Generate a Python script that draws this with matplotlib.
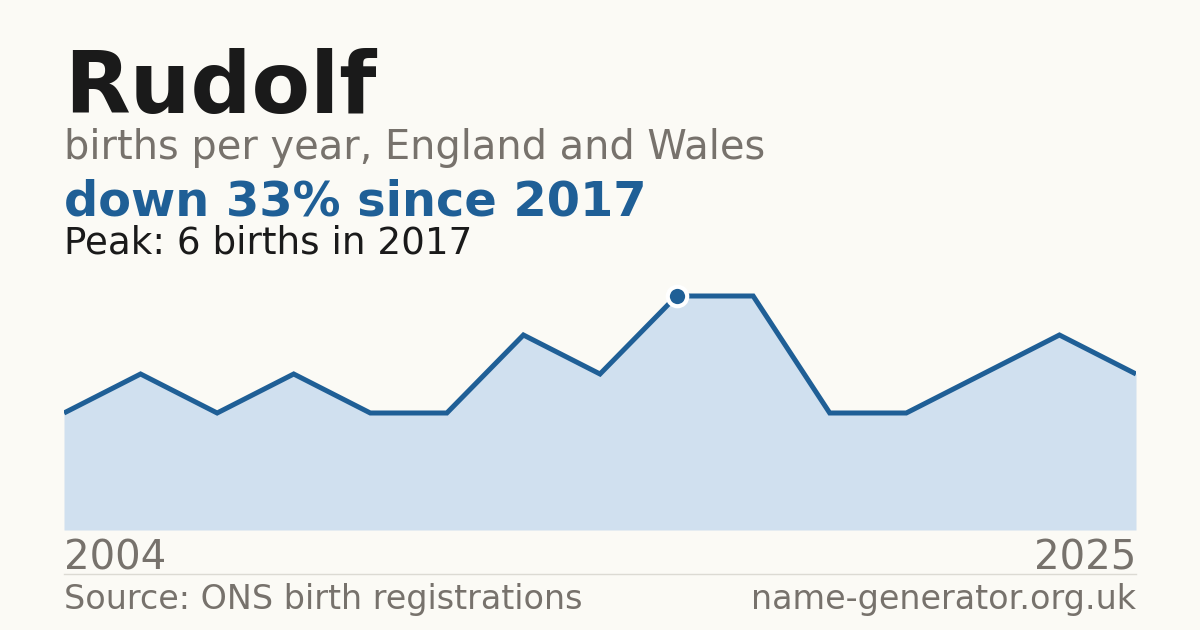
import numpy as np
import matplotlib.pyplot as plt
from matplotlib.lines import Line2D

years = [2004, 2006, 2008, 2010, 2011, 2012, 2014, 2016, 2017, 2018, 2019, 2020, 2021, 2023, 2025]
births = [3, 4, 3, 4, 3, 3, 5, 4, 6, 6, 3, 3, 4, 5, 4]
name = "Rudolf"
subtitle = "births per year, England and Wales"
headline = "down 33% since 2017"
peak_note = "Peak: 6 births in 2017"
source = "Source: ONS birth registrations"
site = "name-generator.org.uk"

bg = "#fbfaf5"
blue = "#1f5f96"
fill = "#d0e0ef"
grey = "#77726c"

W, H = 1200, 630
fig = plt.figure(figsize=(12, 6.3), dpi=100, facecolor=bg)

def fy(y):
    return 1 - y / H

# plot area: left 64, right 1136, bottom 530 (value 0), 6 -> 296
top_val = 6.9
ax_top = 530 - 39 * top_val
ax = fig.add_axes([64 / W, fy(530), (1136 - 64) / W, (530 - ax_top) / H])
ax.set_facecolor(bg)
x = np.arange(len(years))
ax.fill_between(x, births, 0, color=fill, lw=0)
ax.plot(x, births, color=blue, lw=3.6, solid_joinstyle="miter", solid_capstyle="butt")
pk = int(np.argmax(births))
ax.plot(x[pk], births[pk], "o", ms=14, color=blue, mec="white", mew=3, zorder=5)
ax.set_xlim(0, len(years) - 1)
ax.set_ylim(0, top_val)
ax.axis("off")

fig.text(64 / W, fy(113), name, fontsize=61.5, fontweight="bold", color="#1a1a1a", va="baseline")
fig.text(64 / W, fy(159), subtitle, fontsize=28.7, color=grey, va="baseline")
fig.text(64 / W, fy(215), headline, fontsize=34.5, fontweight="bold", color=blue, va="baseline")
fig.text(64 / W, fy(253), peak_note, fontsize=26.8, color="#1a1a1a", va="baseline")

fig.text(64 / W, fy(570), str(years[0]), fontsize=29, color=grey, va="baseline")
fig.text(1136 / W, fy(570), str(years[-1]), fontsize=29, color=grey, va="baseline", ha="right")
fig.add_artist(Line2D([64 / W, 1136 / W], [fy(574), fy(574)], color="#dcdad3", lw=1))
fig.text(64 / W, fy(609), source, fontsize=24, color=grey, va="baseline")
fig.text(1136 / W, fy(609), site, fontsize=24, color=grey, va="baseline", ha="right")

fig.savefig("out.png", dpi=100, facecolor=bg)
